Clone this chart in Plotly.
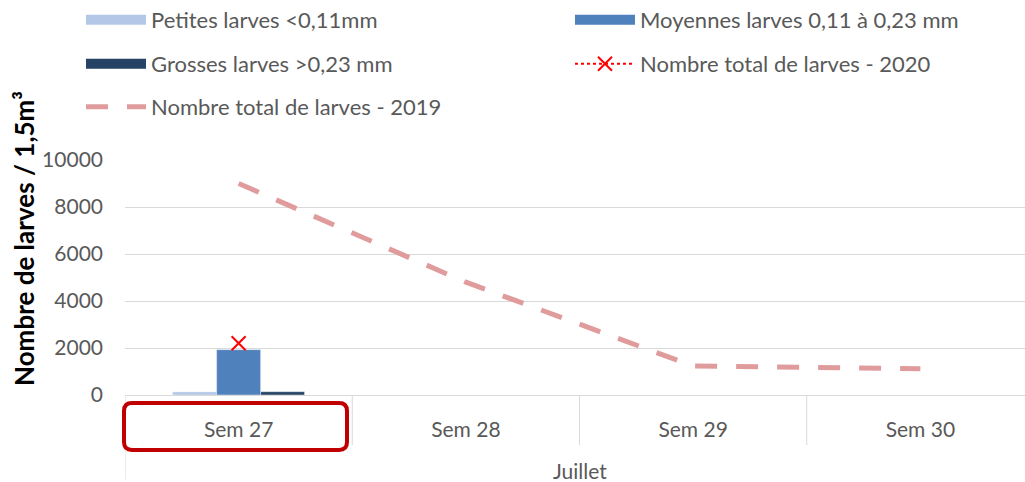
import plotly.graph_objects as go

weeks = ["Sem 27", "Sem 28", "Sem 29", "Sem 30"]
month = "Juillet"

petites = [130, None, None, None]
moyennes = [1930, None, None, None]
grosses = [140, None, None, None]
total_2020 = [2200, None, None, None]
total_2019 = [9000, 4800, 1230, 1120]

font_family = "Lato, Open Sans, Arial"
C_PET, C_MOY, C_GRO = "#B4C7E7", "#4F81BD", "#264264"
W, H = 1034, 482

fig = go.Figure()
fig.add_trace(go.Bar(x=weeks, y=petites, name="Petites larves <0,11mm", marker_color=C_PET, showlegend=False))
fig.add_trace(go.Bar(x=weeks, y=moyennes, name="Moyennes larves 0,11 à 0,23 mm", marker_color=C_MOY, showlegend=False))
fig.add_trace(go.Bar(x=weeks, y=grosses, name="Grosses larves >0,23 mm", marker_color=C_GRO, showlegend=False))
fig.add_trace(go.Scatter(x=weeks, y=total_2020, name="Nombre total de larves - 2020", mode="lines+markers",
                         line=dict(color="red", width=2, dash="dot"),
                         marker=dict(symbol="x-thin", size=14, line=dict(color="red", width=2)),
                         legend="legend4"))
fig.add_trace(go.Scatter(x=weeks, y=total_2019, name="Nombre total de larves - 2019", mode="lines",
                         line=dict(color="#E09C9C", width=5, dash="22px,19px"),
                         legend="legend5"))

# legend entries for bars (wide rectangles)
for name, col, lg in [("Petites larves <0,11mm", C_PET, "legend"),
                      ("Moyennes larves 0,11 à 0,23 mm", C_MOY, "legend2"),
                      ("Grosses larves >0,23 mm", C_GRO, "legend3")]:
    fig.add_trace(go.Scatter(x=[weeks[0]], y=[None], name=name, mode="lines",
                             line=dict(color=col, width=14), legend=lg, showlegend=True))

# dividers of the category axis
for xv, yb in [(-0.5, -0.36), (0.5, -0.213), (1.5, -0.213), (2.5, -0.213)]:
    fig.add_shape(type="line", xref="x", yref="paper", x0=xv, x1=xv, y0=0, y1=yb,
                  line=dict(color="#D9D9D9", width=1))

fig.add_annotation(x=1.5, xref="x", y=-0.32, yref="paper", text=month, showarrow=False,
                   font=dict(size=21, color="#595959"), yanchor="middle")

# y axis title
PW = W - 125
fig.add_annotation(x=(24 - 125) / PW, xref="paper", y=0.664, yref="paper", textangle=-90,
                   text="<b>Nombre de larves / 1,5m³</b>", showarrow=False,
                   font=dict(size=26, color="black"), xanchor="center", yanchor="middle")

# highlight box around Sem 27 label (rounded rectangle in paper coords)
x0, x1 = -1 / PW, 222 / PW
y0, y1 = -0.234, -0.034
rx, ry = 8 / PW, 0.034
path = (f"M{x0+rx},{y1} L{x1-rx},{y1} Q{x1},{y1} {x1},{y1-ry} "
        f"L{x1},{y0+ry} Q{x1},{y0} {x1-rx},{y0} L{x0+rx},{y0} "
        f"Q{x0},{y0} {x0},{y0+ry} L{x0},{y1-ry} Q{x0},{y1} {x0+rx},{y1} Z")
fig.add_shape(type="path", path=path, xref="paper", yref="paper",
              line=dict(color="#C00000", width=4))

def lg(xpx, ypx):
    return dict(x=xpx / W, y=1 - ypx / H, xref="container", yref="container",
                xanchor="left", yanchor="middle", orientation="h",
                font=dict(size=22, color="#595959", family=font_family),
                bgcolor="rgba(0,0,0,0)", itemwidth=60)

fig.update_layout(
    width=W, height=H,
    margin=dict(l=125, r=0, t=160, b=87, autoexpand=False),
    paper_bgcolor="white", plot_bgcolor="white",
    barmode="group", bargap=0.42, bargroupgap=0,
    font=dict(family=font_family, color="#595959", size=21),
    legend=lg(81, 20), legend2=lg(570, 20), legend3=lg(81, 64),
    legend4=lg(570, 64), legend5=lg(81, 107),
    showlegend=True,
)
fig.update_xaxes(type="category", range=[-0.5, 3.5], showline=True, linecolor="#D9D9D9", linewidth=1,
                 tickfont=dict(size=21, color="#595959"), showgrid=False, ticks="",
                 ticklabelstandoff=16, automargin=False)
fig.update_yaxes(range=[0, 10000], dtick=2000, tickformat="d", showgrid=True, gridcolor="#D9D9D9", gridwidth=1,
                 zeroline=False, showline=False, tickfont=dict(size=21, color="#595959"),
                 ticks="", ticklabelstandoff=21, automargin=False)

fig.write_html("out.html", config={"displayModeBar": False},
               post_script="document.body.style.margin='0';document.body.style.overflow='hidden';")
